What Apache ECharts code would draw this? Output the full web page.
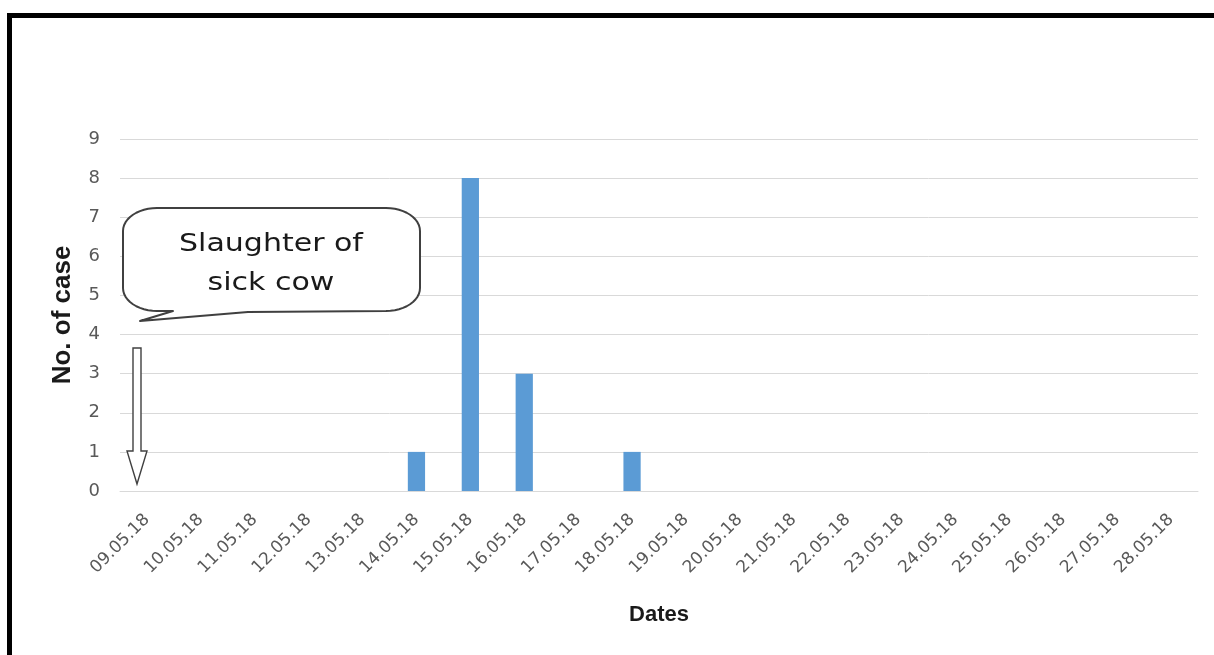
<!DOCTYPE html>
<html>
<head>
<meta charset="utf-8">
<script src="https://cdn.jsdelivr.net/npm/echarts@6/dist/echarts.min.js"></script>
<style>
  html, body { margin: 0; padding: 0; background: #ffffff; }
  #chart { width: 1214px; height: 655px; }
</style>
</head>
<body>
<div id="chart"></div>
<script>
// Daily new cases, 09.05.18 - 28.05.18
const dates = [
  '09.05.18', '10.05.18', '11.05.18', '12.05.18', '13.05.18',
  '14.05.18', '15.05.18', '16.05.18', '17.05.18', '18.05.18',
  '19.05.18', '20.05.18', '21.05.18', '22.05.18', '23.05.18',
  '24.05.18', '25.05.18', '26.05.18', '27.05.18', '28.05.18'
];
const cases = [0, 0, 0, 0, 0, 1, 8, 3, 0, 1, 0, 0, 0, 0, 0, 0, 0, 0, 0, 0];
const calloutLines = ['Slaughter of', 'sick cow'];

// Outline of a rounded speech bubble with a tail on its lower-left edge.
function bubblePoints(left, top, right, bottom, rx, ry, tail) {
  const pts = [];
  const arc = (cx, cy, a0, a1) => {
    const n = 12;
    for (let i = 0; i <= n; i++) {
      const a = a0 + (a1 - a0) * i / n;
      pts.push([cx + rx * Math.cos(a), cy + ry * Math.sin(a)]);
    }
  };
  const P = Math.PI;
  arc(left + rx, top + ry, P, 1.5 * P);            // top-left
  arc(right - rx, top + ry, 1.5 * P, 2 * P);       // top-right
  arc(right - rx, bottom - ry, 0, 0.5 * P);        // bottom-right
  pts.push([tail.x1, bottom + 1], [tail.tx, tail.ty], [tail.x0, bottom]);
  arc(left + rx, bottom - ry, 0.5 * P, P);         // bottom-left
  return pts;
}

const chart = echarts.init(document.getElementById('chart'), null, { renderer: 'canvas' });

const labelFont = '"DejaVu Sans", sans-serif';
const gridLine = '#d9d9d9';

chart.setOption({
  animation: false,
  backgroundColor: '#ffffff',
  grid: { left: 120, right: 16, top: 139, bottom: 164 },
  xAxis: {
    type: 'category',
    data: dates,
    name: 'Dates',
    nameLocation: 'middle',
    nameGap: 113,
    nameTextStyle: { fontFamily: '"Liberation Sans", Arial, sans-serif', fontWeight: 'bold', fontSize: 22, color: '#1a1a1a' },
    axisLine: { show: true, lineStyle: { color: gridLine, width: 1 } },
    axisTick: { show: false },
    axisLabel: {
      interval: 0,
      rotate: 45,
      margin: 26,
      fontFamily: labelFont,
      fontSize: 17,
      color: '#595959'
    }
  },
  yAxis: {
    type: 'value',
    min: 0,
    max: 9,
    interval: 1,
    name: 'No. of case',
    nameLocation: 'middle',
    nameGap: 44,
    nameTextStyle: { fontFamily: '"Liberation Sans", Arial, sans-serif', fontWeight: 'bold', fontSize: 26, color: '#1a1a1a' },
    axisLine: { show: false },
    axisTick: { show: false },
    axisLabel: { margin: 20, fontFamily: labelFont, fontSize: 18, color: '#595959' },
    splitLine: { lineStyle: { color: gridLine, width: 1 } }
  },
  series: [{
    type: 'bar',
    data: cases,
    barWidth: '32%',
    itemStyle: { color: '#5b9bd5' }
  }],
  graphic: [
    // frame: heavy black rule along top and left edges
    { type: 'rect', shape: { x: 7, y: 13, width: 1207, height: 5 }, style: { fill: '#000000' }, z: 100 },
    { type: 'rect', shape: { x: 7, y: 13, width: 5, height: 642 }, style: { fill: '#000000' }, z: 100 },
    // speech-bubble callout
    {
      type: 'polygon',
      shape: { points: bubblePoints(123, 208, 420, 311, 34, 23, { x0: 173, x1: 248, tx: 140, ty: 321 }) },
      style: { fill: '#ffffff', stroke: '#404040', lineWidth: 2, lineJoin: 'round' },
      z: 50
    },
    {
      type: 'text',
      x: 271, y: 245, scaleX: 1.25,
      style: {
        text: calloutLines[0], fontFamily: labelFont, fontSize: 24, fill: '#1a1a1a',
        align: 'center', verticalAlign: 'middle'
      },
      z: 51
    },
    {
      type: 'text',
      x: 271, y: 284, scaleX: 1.25,
      style: {
        text: calloutLines[1], fontFamily: labelFont, fontSize: 24, fill: '#1a1a1a',
        align: 'center', verticalAlign: 'middle'
      },
      z: 51
    },
    // hollow down arrow marking the slaughter date
    {
      type: 'polygon',
      shape: { points: [[133, 348], [141, 348], [141, 451], [147, 451], [137, 484], [127, 451], [133, 451]] },
      style: { fill: '#ffffff', stroke: '#404040', lineWidth: 1.4 },
      z: 50
    }
  ]
});
</script>
</body>
</html>
